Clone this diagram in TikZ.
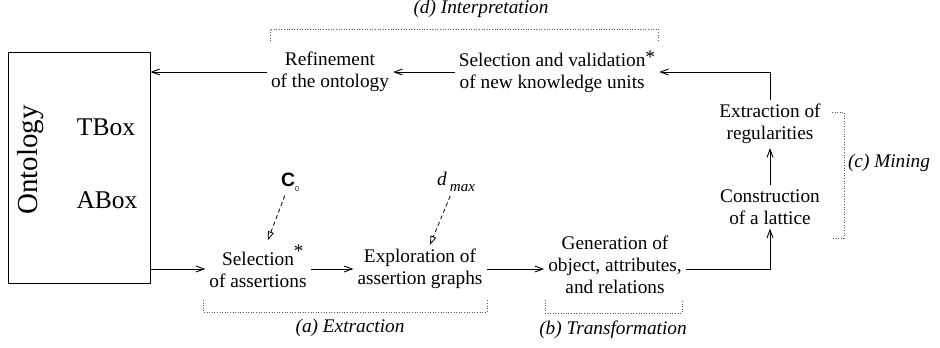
\documentclass[tikz,border=0pt]{standalone}
\usepackage{fontspec}
\setmainfont{Liberation Serif}
\newfontfamily\csans{Liberation Sans}
\usetikzlibrary{arrows.meta}

\begin{document}
\begin{tikzpicture}[x=1bp,y=-1bp,line join=bevel,
  font=\fontsize{19.3bp}{22bp}\selectfont,
  >={Straight Barb[length=8bp,width=6bp]},
  every node/.style={inner sep=4bp},
  stepnode/.style={align=center},
  bracket/.style={gray!70!black,line width=0.8bp,dash pattern=on 0.8bp off 1.8bp},
  phase/.style={font=\fontsize{19.3bp}{22bp}\selectfont\itshape},
  flow/.style={line width=0.9bp,->},
  hint/.style={line width=0.8bp,dash pattern=on 4bp off 3bp,-{Triangle[open,length=9bp,width=6bp]}}]
\useasboundingbox (0,0) rectangle (940,347);
%%
\node (onto) at (79,167.5) [draw,line width=0.9bp,minimum width=142bp,minimum height=231bp] {};
\node (ontolabel) at (31,160) [rotate=90,font=\fontsize{29bp}{30bp}\selectfont] {Ontology};
\node (tbox) at (106,127) [font=\fontsize{25.5bp}{27bp}\selectfont] {TBox};
\node (abox) at (107,200) [font=\fontsize{25.5bp}{27bp}\selectfont] {ABox};
%%
\node (refine) at (330,72) [stepnode] {Refinement\\of the ontology};
\node (selval) at (557,72) [stepnode] {Selection and validation\raisebox{0.3ex}{*}\\of new knowledge units\hphantom{*}};
\node (extreg) at (770,124) [stepnode] {Extraction of\\regularities};
\node (constr) at (770,207) [stepnode] {Construction\\of a lattice};
\node (selass) at (258,266) [stepnode] {Selection\rlap{\raisebox{0.9ex}{*}}\\of assertions};
\node (explor) at (420,269) [stepnode] {Exploration of\\assertion graphs};
\node (gener) at (615,265) [stepnode] {Generation of\\object, attributes,\\and relations};
%%
\node (czero) at (290,182) {{\csans\bfseries C}\raisebox{-0.6ex}{\fontsize{7bp}{8bp}\selectfont\csans 0}};
\node (dmax) at (456,182) {\textit{d}\,\raisebox{-0.7ex}{\fontsize{15bp}{16bp}\selectfont\itshape max}};
%%
\draw [flow] (refine.west) -- (refine.west -| onto.east);
\draw [flow] (selval.west) -- (refine.east);
\draw [flow] (extreg.north) |- (selval.east);
\draw [flow] (constr.north) -- (extreg.south);
\draw [flow] (gener.east |- explor) -| (constr.south);
\draw [flow] (explor.east) -- (explor.east -| gener.west);
\draw [flow] (selass.east |- explor) -- (explor.west);
\draw [flow] (onto.east |- explor) -- (explor -| selass.west);
\draw [hint] (czero) -- (selass);
\draw [hint] (dmax) -- (explor);
%%
\draw [bracket] (270,41) -- (270,29) -- (658,29) -- (658,42);
\draw [bracket] (203,300) -- (203,312) -- (487,312) -- (487,300);
\draw [bracket] (545,300) -- (545,313) -- (682,313) -- (682,300);
\draw [bracket] (832,112) -- (844,112) -- (844,238) -- (832,238);
\node (interp) at (481,9) [phase] {(d) Interpretation};
\node (extract) at (350,328) [phase] {(a) Extraction};
\node (transf) at (613,330) [phase] {(b) Transformation};
\node (mining) at (889,163) [phase] {(c) Mining};
%
\end{tikzpicture}
\end{document}
